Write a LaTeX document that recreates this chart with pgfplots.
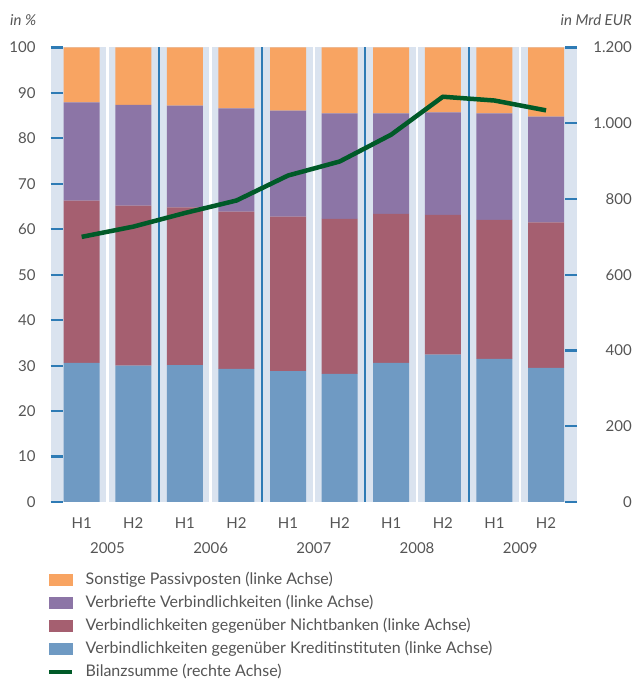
\documentclass[border=0pt]{standalone}
\usepackage{fontspec}
\setmainfont{Lato}
\usepackage{pgfplots}
\pgfplotsset{compat=1.18}

\definecolor{cOrange}{HTML}{F8A462}
\definecolor{cPurple}{HTML}{8C75A6}
\definecolor{cRed}{HTML}{A55F70}
\definecolor{cBlue}{HTML}{6F9AC3}
\definecolor{cBg}{HTML}{DAE3EF}
\definecolor{cTick}{HTML}{2E7BB5}
\definecolor{cGreen}{HTML}{005A28}
\definecolor{cText}{HTML}{555555}

\pgfplotsset{
  base/.style={
    at={(50.7pt,178pt)}, anchor=south west,
    scale only axis, width=526.3pt, height=454.5pt,
    xmin=-0.6, xmax=9.6,
    axis line style={draw=none},
    tick align=inside,
    major tick length=12pt,
    every tick/.style={cTick, line width=2.2pt},
    tick label style={font=\fontsize{15}{18}\selectfont, text=cText, inner sep=0pt},
    /pgf/number format/assume math mode=true,
  },
  patch/.style={legend image code/.code={\fill[#1] (0pt,-5.5pt) rectangle (23pt,5.5pt); \path (34pt,0pt);}},
}

\begin{document}
\begin{tikzpicture}
\path[use as bounding box] (0,0) rectangle (636pt,680pt);

\begin{axis}[base,
  axis background/.style={fill=cBg},
  ybar stacked, bar width=36pt,
  ymin=0, ymax=100, ytick={0,10,...,100},
  ytick pos=left,
  yticklabel style={anchor=east, xshift=-15pt},
  xtick={0,...,9},
  xticklabels={H1,H2,H1,H2,H1,H2,H1,H2,H1,H2},
  x tick style={draw=none},
  xticklabel style={anchor=center, yshift=-21pt},
  minor xtick={1.5,3.5,5.5,7.5},
  xminorgrids=true,
  minor grid style={cTick, line width=2pt},
  extra x ticks={0.5,2.5,4.5,6.5,8.5},
  extra x tick labels={2005,2006,2007,2008,2009},
  extra x tick style={grid=major, major grid style={white, line width=2.5pt},
    xticklabel style={yshift=-25pt}},
]
\addplot[fill=cBlue, draw=none] coordinates {(0,30.6) (1,30.0) (2,30.1) (3,29.3) (4,28.8) (5,28.2) (6,30.6) (7,32.4) (8,31.5) (9,29.5)};
\addplot[fill=cRed, draw=none] coordinates {(0,35.7) (1,35.2) (2,34.7) (3,34.6) (4,34.0) (5,34.1) (6,32.8) (7,30.8) (8,30.6) (9,32.0)};
\addplot[fill=cPurple, draw=none] coordinates {(0,21.6) (1,22.2) (2,22.4) (3,22.7) (4,23.3) (5,23.2) (6,22.1) (7,22.5) (8,23.4) (9,23.3)};
\addplot[fill=cOrange, draw=none] coordinates {(0,12.1) (1,12.6) (2,12.8) (3,13.4) (4,13.9) (5,14.5) (6,14.5) (7,14.3) (8,14.5) (9,15.2)};
\end{axis}

\begin{axis}[base,
  ymin=0, ymax=1200, ytick={0,200,...,1200},
  ytick pos=right,
  yticklabel style={anchor=east, xshift=55pt},
  /pgf/number format/.cd, 1000 sep={.}, /pgfplots/.cd,
  xtick=\empty,
  legend style={at={(-0.0127,-0.1518)}, anchor=north west, draw=none, fill=none,
    font=\fontsize{16}{19}\selectfont, text=cText, row sep=9pt,
    nodes={inner sep=0pt, text height=11pt, text depth=3pt}},
  legend cell align=left,
]
\addlegendimage{patch=cOrange}
\addlegendentry{Sonstige Passivposten (linke Achse)}
\addlegendimage{patch=cPurple}
\addlegendentry{Verbriefte Verbindlichkeiten (linke Achse)}
\addlegendimage{patch=cRed}
\addlegendentry{Verbindlichkeiten gegenüber Nichtbanken (linke Achse)}
\addlegendimage{patch=cBlue}
\addlegendentry{Verbindlichkeiten gegenüber Kreditinstituten (linke Achse)}
\addplot[cGreen, line width=4.5pt, line join=round,
  legend image code/.code={\draw[cGreen, line width=4.5pt] (0pt,0pt) -- (23pt,0pt); \path (34pt,0pt);}]
  coordinates {(0,700) (1,727) (2,763) (3,796) (4,862) (5,899) (6,970) (7,1070) (8,1060) (9,1034)};
\addlegendentry{Bilanzsumme (rechte Achse)}
\end{axis}

\node[anchor=west, font=\itshape\fontsize{15}{18}\selectfont, text=cText, inner sep=0pt] at (10pt,660pt) {in \%};
\node[anchor=east, font=\itshape\fontsize{15}{18}\selectfont, text=cText, inner sep=0pt] at (632pt,660pt) {in Mrd EUR};
\end{tikzpicture}
\end{document}
